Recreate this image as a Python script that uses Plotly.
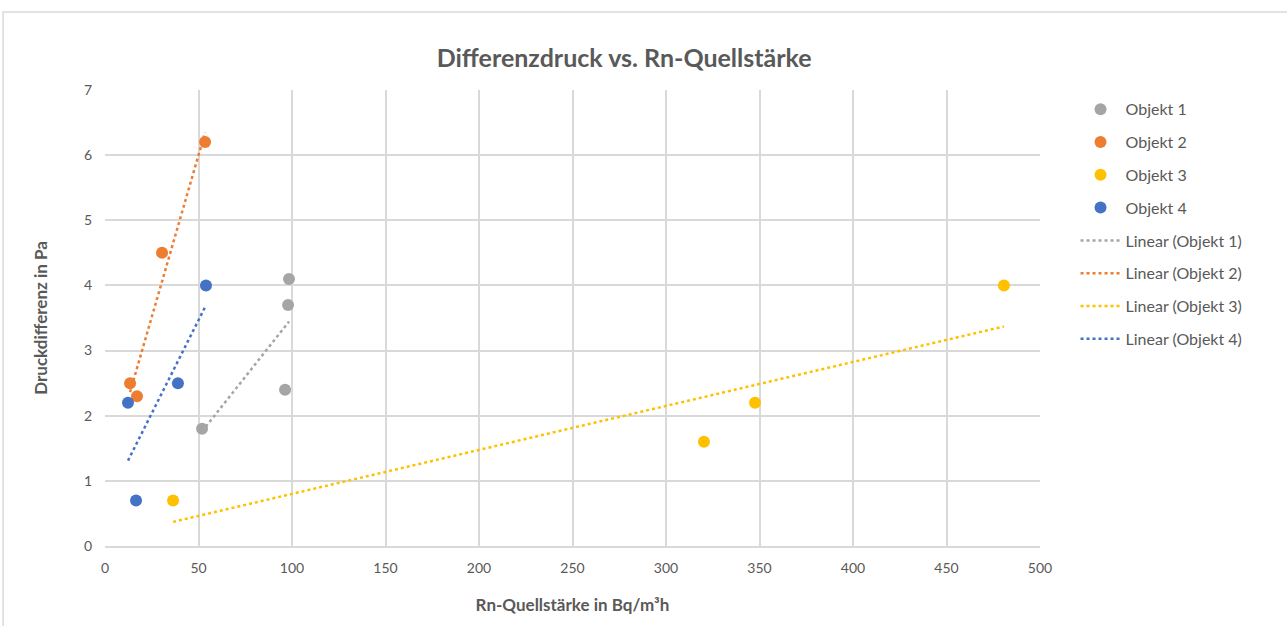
import numpy as np
import plotly.graph_objects as go

# Rn-Quellstärke (Bq/m³h) und Druckdifferenz (Pa) je Objekt
objekt1_x = [51.9, 98.4, 97.9, 96.3]
objekt1_y = [1.8, 4.1, 3.7, 2.4]
objekt2_x = [53.5, 30.5, 13.4, 17.1]
objekt2_y = [6.2, 4.5, 2.5, 2.3]
objekt3_x = [36.4, 320.3, 347.6, 480.7]
objekt3_y = [0.7, 1.6, 2.2, 4.0]
objekt4_x = [12.3, 16.6, 39.0, 54.0]
objekt4_y = [2.2, 0.7, 2.5, 4.0]

namen = ['Objekt 1', 'Objekt 2', 'Objekt 3', 'Objekt 4']
farben = ['#A5A5A5', '#ED7D31', '#FFC000', '#4472C4']
serien = [(objekt1_x, objekt1_y), (objekt2_x, objekt2_y), (objekt3_x, objekt3_y), (objekt4_x, objekt4_y)]

textfarbe = '#595959'
schrift = 'Lato, Open Sans, sans-serif'

fig = go.Figure()

for name, farbe, (xs, ys) in zip(namen, farben, serien):
    fig.add_trace(go.Scatter(x=xs, y=ys, mode='markers', name=name, legendgroup=name,
                             marker=dict(color=farbe, size=12)))

# lineare Trendlinien (kleinste Quadrate, wie in Excel)
for name, farbe, (xs, ys) in zip(namen, farben, serien):
    m, b = np.polyfit(xs, ys, 1)
    x_tl = np.array([min(xs), max(xs)])
    fig.add_trace(go.Scatter(x=x_tl, y=m * x_tl + b, mode='lines', name='Linear (' + name + ')',
                             legendgroup='tl ' + name,
                             line=dict(color=farbe, width=2.5, dash='dot')))

fig.update_layout(
    width=1287, height=626,
    paper_bgcolor='white', plot_bgcolor='white',
    margin=dict(l=105, r=247, t=90, b=80),
    font=dict(family=schrift, color=textfarbe, size=14),
    title=dict(text='<b>Differenzdruck vs. Rn-Quellstärke</b>', x=0.485, xref='container', xanchor='center',
               y=0.907, yanchor='middle', font=dict(size=25, color=textfarbe, family=schrift)),
    legend=dict(x=1.038, y=0.995, xanchor='left', yanchor='top', font=dict(size=16, color=textfarbe),
                tracegroupgap=9, itemwidth=40, bgcolor='rgba(0,0,0,0)'),
    showlegend=True,
)

fig.update_xaxes(range=[0, 500], dtick=50, showgrid=True, gridcolor='#D9D9D9', gridwidth=1.5,
                 zeroline=False, showline=True, linecolor='#D9D9D9', linewidth=1.5,
                 ticks='', ticklabelstandoff=8, tickfont=dict(size=14, color=textfarbe),
                 title=dict(text='<b>Rn-Quellstärke in Bq/m³h</b>', font=dict(size=17, color=textfarbe), standoff=25))
fig.update_yaxes(range=[0, 7], dtick=1, showgrid=True, gridcolor='#D9D9D9', gridwidth=1.5,
                 zeroline=False, showline=False,
                 ticks='', ticklabelstandoff=12, tickfont=dict(size=14, color=textfarbe),
                 title=dict(text='<b>Druckdifferenz in Pa</b>', font=dict(size=17, color=textfarbe), standoff=31))

# Rahmen des Diagrammbereichs
fig.add_shape(type='rect', xref='paper', yref='paper', x0=-0.109, x1=1.4, y0=-0.3, y1=1.171,
              line=dict(color='#D9D9D9', width=1.5), fillcolor='rgba(0,0,0,0)', layer='below')

fig.write_html('out.html', config={'displayModeBar': False},
               post_script="document.body.style.margin='0';")
